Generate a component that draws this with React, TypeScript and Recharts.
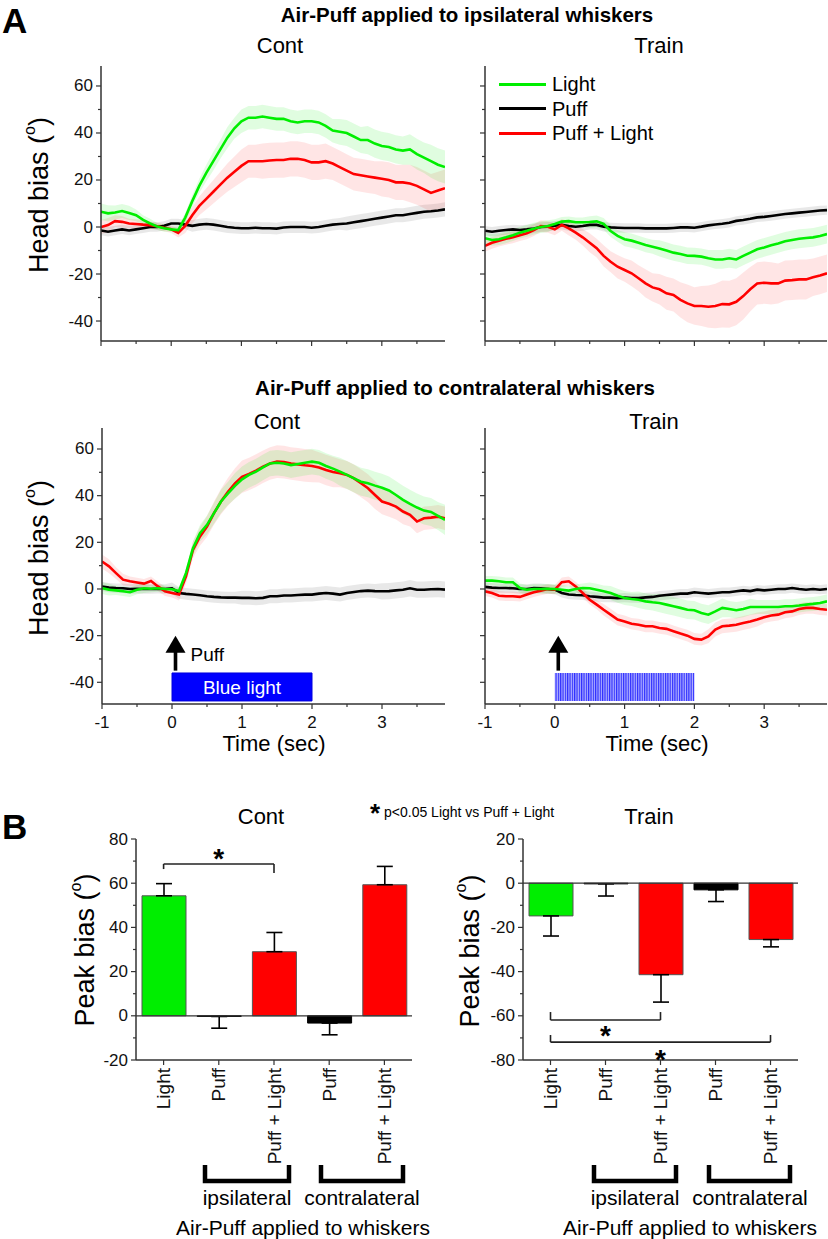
import React from 'react';
import {
  ComposedChart, Line, Area, XAxis, YAxis, ReferenceArea, ReferenceDot,
  ReferenceLine, BarChart, Bar, Cell, ErrorBar,
} from 'recharts';

const FONT = '"Liberation Sans", Arial, Helvetica, sans-serif';
const GREEN = '#00ee00';
const RED = '#ff0000';
const BLACK = '#000000';

// ---------- Panel A: time axis (sec) ----------
const time = [
  -1, -0.9, -0.8, -0.7, -0.6, -0.5, -0.4, -0.3, -0.2, -0.1,
  0, 0.1, 0.2, 0.3, 0.4, 0.5, 0.6, 0.7, 0.8, 0.9,
  1, 1.1, 1.2, 1.3, 1.4, 1.5, 1.6, 1.7, 1.8, 1.9,
  2, 2.1, 2.2, 2.3, 2.4, 2.5, 2.6, 2.7, 2.8, 2.9,
  3, 3.1, 3.2, 3.3, 3.4, 3.5, 3.6, 3.7, 3.8, 3.9,
];
const xTicks = [-1, -0.5, 0, 0.5, 1, 1.5, 2, 2.5, 3, 3.5];
const xTickLabels = ['-1', '0', '1', '2', '3'];
const yTicksA = [-40, -30, -20, -10, 0, 10, 20, 30, 40, 50, 60];

// Ipsilateral, Cont
const ipsiContLight = [6.5, 5.8, 6.2, 6.8, 6.0, 5.0, 3.0, 1.5, 0.2, -0.5, -1.0, -1.3, 4.0, 11.0, 17.5, 23.0, 28.0, 33.0, 38.0, 42.0, 45.0, 46.5, 46.5, 47.0, 46.5, 46.0, 46.0, 45.0, 44.5, 45.0, 45.0, 44.5, 43.0, 41.0, 40.5, 40.0, 38.5, 37.0, 37.0, 35.5, 34.5, 34.0, 33.0, 32.5, 33.0, 31.0, 29.5, 28.0, 26.5, 25.5];
const ipsiContLightSem = [3.5, 3.5, 3, 3, 3, 2.5, 2, 2, 1.5, 1.5, 1, 1.5, 2, 2.5, 3, 3.5, 4, 4, 4.5, 4.5, 5, 5, 5, 5, 5, 5, 5, 5, 5, 5, 5, 5, 5, 5, 5.5, 5.5, 5.5, 5.5, 6, 6, 6, 6, 6, 6, 6.5, 6.5, 6.5, 7, 7, 7];
const ipsiContPuff = [-1.5, -2, -1.5, -1, -1.5, -1, -0.5, 0, 0, 0.5, 1.5, 1.5, 1, 0.5, 1, 1.3, 1, 0.5, 0, -0.3, -0.5, -0.5, -0.3, -0.5, -0.5, -0.7, -0.2, 0, 0, 0, -0.3, 0, 0.5, 1, 1.3, 1.5, 2, 2.5, 3, 3.5, 4, 4.5, 5, 5, 5.5, 6, 6.5, 6.7, 7, 7.5];
const ipsiContPuffSem = [2, 2, 2, 2, 2, 2, 2, 2, 2, 2, 2, 2, 2, 2.5, 2.5, 2.5, 2.5, 2.5, 2.5, 2.5, 2.5, 2.5, 2.5, 2.5, 2.5, 2.5, 2.5, 2.5, 2.5, 2.5, 2.5, 2.5, 2.5, 2.5, 2.5, 3, 3, 3, 3, 3, 3, 3, 3, 3, 3, 3, 3, 3, 3, 3];
const ipsiContPL = [0, 0.8, 2.5, 2.2, 1.5, 1.3, 1.0, 0.8, 0.3, -0.3, -1.0, -2.5, 0.5, 5.0, 9.0, 12.0, 15.0, 18.0, 21.0, 23.5, 26, 28, 28, 28, 28.3, 28.5, 28.5, 29, 29, 28.5, 27.5, 27.5, 28, 27, 25.5, 24, 22.5, 22, 21.5, 21, 20.5, 20, 19, 19, 18.5, 17.5, 16, 14.5, 15.5, 16.5];
const ipsiContPLSem = [3, 3, 2.5, 2.5, 2, 2, 2, 1.5, 1.5, 1.5, 1.5, 2, 3, 3.5, 4, 4.5, 5, 5.5, 6, 6.5, 7, 7, 7, 7.5, 7.5, 7.5, 7.5, 7.5, 7.5, 7.5, 7.5, 7.5, 7.5, 7, 7, 7, 7, 7, 7, 7, 7.5, 7.5, 7.5, 7.5, 8, 8, 8, 8, 8, 8];

// Ipsilateral, Train
const ipsiTrainLight = [-4.8, -5.5, -5.2, -4.4, -3.5, -2.4, -1.6, -0.7, 0, 0.4, 1.3, 2.3, 2.5, 2, 2, 2.1, 2.4, 1.3, -1.7, -3.8, -5.2, -5.8, -6.7, -7.7, -8.4, -9.1, -10, -10.9, -11.5, -12.2, -12.3, -12.6, -13.3, -13.8, -13.8, -13.3, -13.8, -12.3, -10.9, -9.5, -8.7, -7.8, -7, -6.1, -5.5, -5, -4.7, -4.4, -3.8, -3];
const ipsiTrainLightSem = [2.5, 2.5, 2.5, 2.5, 2.5, 2.5, 2.5, 2.5, 2.5, 2.5, 2, 2, 2, 2, 2, 2.5, 2.5, 2.5, 2.5, 2.5, 3, 3, 3, 3, 3, 3.5, 3.5, 3.5, 3.5, 3.5, 3.5, 3.5, 3.5, 4, 4, 4, 4, 4, 4, 4, 4, 4, 4, 4, 4, 4, 4, 4, 4, 4];
const ipsiTrainPuff = [-1.6, -2, -1.6, -1.3, -1, -1.3, -1, -0.6, 0, 0.1, 0.6, 0.9, 0.4, 0.1, 0.4, 0.9, 0.9, 0.1, -0.15, -0.3, -0.4, -0.4, -0.4, -0.6, -0.6, -0.6, -0.6, -0.4, -0.15, -0.15, -0.3, 0.15, 0.7, 1.1, 1.4, 1.8, 2.6, 3, 3.5, 4.1, 4.3, 4.7, 5.1, 5.5, 5.8, 6.1, 6.4, 6.7, 7, 7.2];
const ipsiTrainPuffSem = [2, 2, 2, 2, 2, 2, 2, 2, 2, 2, 2, 2, 2, 2, 2, 2, 2, 2, 2, 2, 2, 2, 2, 2, 2, 2, 2, 2, 2, 2, 2, 2, 2, 2, 2, 2, 2, 2, 2, 2, 2, 2, 2, 2, 2, 2, 2, 2, 2, 2];
const ipsiTrainPL = [-8, -6.7, -5.8, -5, -4.4, -3.5, -2.7, -1.3, 0.4, 0.1, -1, 0.9, -0.6, -2.4, -4.4, -6.7, -9, -12.3, -14.8, -16.9, -18.3, -19.7, -21.8, -24, -25.7, -26.5, -28.2, -28.9, -31, -32.5, -33.6, -33.6, -33.9, -33.6, -32.8, -32.9, -31.8, -29.4, -26.5, -24, -23.7, -24, -24, -22.8, -22.6, -22.3, -22.3, -21.4, -20.6, -19.7];
const ipsiTrainPLSem = [2.5, 2.5, 2.5, 2.5, 2.5, 2.5, 2.5, 2.5, 2.5, 2.5, 2.5, 2.5, 3, 3, 3.5, 4, 4, 4.5, 4.5, 5, 5, 5.5, 5.5, 6, 6, 6.5, 7, 7, 7.5, 8, 8, 8.5, 9, 9.5, 10, 10, 10, 10, 9.5, 9, 9, 9, 8.5, 8.5, 8.5, 8.5, 8.5, 8, 8, 8];

// Contralateral, Cont
const contraContLight = [0.4, -0.3, -0.6, -1, -1.4, -0.3, 0.3, 0.1, 0.3, 0, -0.1, -0.9, 6.8, 17.5, 23.9, 27.5, 32.5, 37.5, 41, 44.2, 47, 48.9, 50.3, 52.1, 53.8, 54.1, 53.8, 53.1, 53.6, 54.1, 54.6, 54.1, 52.7, 51.6, 50.3, 48.9, 47.4, 46, 45.3, 44.3, 43.4, 42.2, 40.3, 38.2, 36.5, 34.9, 33.6, 33, 31.3, 29.6];
const contraContLightSem = [2.5, 2.5, 2, 2, 2, 2, 2, 1.5, 1.5, 1.5, 1.5, 1.5, 2, 3, 3.5, 4, 4.5, 5, 5, 5.5, 5.5, 5.5, 5.5, 5.5, 5.5, 5.5, 5.5, 5.5, 5.5, 5.5, 5.5, 5.5, 5.5, 5.5, 6, 6, 6, 6, 6, 6, 6, 6, 6, 6, 6, 6, 6, 6, 6, 6.5];
const contraContPuff = [1.1, 0.6, 0.4, 0.3, 0, 0.1, 0, 0, 0.1, 0, 0.3, -1.7, -2.1, -2.4, -2.7, -3.1, -3.4, -3.6, -3.7, -3.7, -3.8, -3.8, -4, -3.8, -3.1, -3.1, -2.8, -2.8, -2.6, -2.4, -2.4, -2, -1.7, -2, -2.4, -1.7, -1.3, -0.9, -0.7, -0.9, -1, -0.9, -0.6, -0.3, 0.3, -0.3, -0.3, -0.1, 0, -0.3];
const contraContPuffSem = [2, 2, 2, 2, 2, 2, 2, 2, 2, 2, 2.5, 2.5, 2.5, 2.5, 2.5, 2.5, 2.5, 2.5, 2.5, 2.5, 3, 3, 3, 3, 3, 3, 3, 3, 3, 3, 3, 3, 3, 3, 3, 3, 3, 3, 3, 3, 3.5, 3.5, 3.5, 3.5, 3.5, 3.5, 3.5, 3.5, 3.5, 3.5];
const contraContPL = [11.8, 9.7, 6.8, 4, 3.3, 2.8, 2.3, 3.4, 1.1, -1, -1.7, -2.4, 5.4, 16.8, 22.5, 26.8, 32.5, 37.5, 41.7, 45.3, 48.1, 49.3, 50.7, 52.4, 53.8, 54.6, 54.4, 53.8, 53.4, 53, 52.7, 52.1, 51, 50.1, 49.6, 48.9, 47.4, 45.3, 43.2, 40.3, 37.5, 36.5, 35.3, 33.2, 31.8, 28.9, 30.3, 30.6, 31, 30.3];
const contraContPLSem = [3, 3, 2.5, 2.5, 2, 2, 2, 2, 2, 2, 2, 2.5, 3, 3.5, 4, 4.5, 5, 5.5, 6, 6.5, 7, 7, 7, 7, 7, 7, 7, 7, 7, 7, 7, 6.5, 6.5, 6.5, 6, 6, 6, 6, 6, 6, 5.5, 5.5, 5.5, 5.5, 5, 5, 5, 5, 5, 5];

// Contralateral, Train
const contraTrainLight = [3.6, 3.6, 3.3, 2.9, 2.9, 0.4, -0.3, 0, 0, 0.1, 0, -0.3, -0.7, 0, 0.4, 0.3, -0.3, -1, -1.7, -2.9, -3.9, -4.3, -4.6, -5.3, -5.7, -6, -6.7, -7.4, -8.1, -8.9, -9.1, -10.3, -11, -9.6, -8.1, -8.6, -9.1, -8.6, -7.7, -7.7, -7.7, -7.7, -7.7, -7.4, -7.4, -7.1, -6.7, -6.4, -6, -5.3];
const contraTrainLightSem = [2, 2, 2, 2, 2, 2, 2, 2, 2, 2, 2, 2, 2, 2, 2, 2.5, 2.5, 2.5, 3, 3, 3, 3, 3.5, 3.5, 3.5, 4, 4, 4, 4, 4, 4, 4, 4, 4, 4, 3.5, 3.5, 3.5, 3.5, 3, 3, 3, 3, 3, 3, 3, 3, 3, 3, 3];
const contraTrainPuff = [0.9, 0.6, 0.4, 0.4, 0.3, 0, 0, 0.4, 0.3, 0, -0.3, -1.7, -2.4, -2.6, -2.7, -3.1, -3.4, -3.7, -3.7, -3.9, -3.7, -3.9, -3.9, -3.6, -3.4, -2.9, -2.6, -2.3, -2, -2, -1.4, -1.7, -2, -1.7, -1.4, -1.4, -1, -0.6, -0.9, -0.3, -0.6, -0.3, 0, 0, 0.4, 0, -0.3, 0, -0.3, 0];
const contraTrainPuffSem = [2, 2, 2, 2, 2, 2, 2, 2, 2, 2, 2, 2, 2, 2, 2, 2, 2, 2, 2, 2, 2, 2, 2, 2, 2, 2, 2, 2, 2, 2, 2, 2, 2, 2, 2, 2, 2, 2, 2, 2, 2, 2, 2, 2, 2, 2, 2, 2, 2, 2];
const contraTrainPL = [-1, -1.7, -2.9, -3.1, -3.1, -3.4, -2.4, -1.4, -0.7, 0, -0.3, 2.9, 3.3, 1.1, -1.7, -4.6, -6.7, -8.9, -11, -13.1, -13.9, -14.9, -15.3, -16, -16, -16.7, -17.1, -18.1, -19.1, -20, -21.4, -21.7, -20.3, -17.4, -16, -15.7, -15.3, -14.6, -13.9, -13.1, -12.1, -11.4, -11, -10, -9.6, -8.6, -8.1, -8.1, -8.6, -8.9];
const contraTrainPLSem = [2, 2, 2, 2, 2, 2, 2, 2, 2, 2, 2, 2, 2, 2, 2, 2, 2, 2.5, 2.5, 2.5, 2.5, 2.5, 2.5, 2.5, 2.5, 2.5, 2.5, 2.5, 2.5, 2.5, 2.5, 2.5, 3, 3, 3, 3, 3, 3, 3, 3, 2.5, 2.5, 2.5, 2.5, 2.5, 2.5, 2.5, 2.5, 2.5, 2.5];

// ---------- Panel B ----------
const barKeys = ['light', 'puffI', 'plI', 'puffC', 'plC'];
const barLabels = ['Light', 'Puff', 'Puff + Light', 'Puff', 'Puff + Light'];
const barColors = [GREEN, BLACK, RED, BLACK, RED];
const contPeak = [54.3, -0.3, 29.0, -3.3, 59.3];
const contErr = [5.5, 5.3, 8.7, 5.3, 8.3];
const trainPeak = [-14.8, -0.3, -41.4, -3.0, -25.5];
const trainErr = [9.1, 5.5, 12.4, 5.3, 3.3];
const yTicksCont = [-20, -10, 0, 10, 20, 30, 40, 50, 60, 70, 80];
const yTicksTrain = [-80, -70, -60, -50, -40, -30, -20, -10, 0, 10, 20];

const legendItems = [
  { name: 'Light', color: GREEN },
  { name: 'Puff', color: BLACK },
  { name: 'Puff + Light', color: RED },
];

function buildRows(L: number[], Ls: number[], P: number[], Ps: number[], PL: number[], PLs: number[]) {
  return time.map((t, i) => ({ t, g: L[i], gs: Ls[i], k: P[i], ks: Ps[i], r: PL[i], rs: PLs[i] }));
}

const AX = '#333';

const makeYTick = (showLabel: boolean) => (props: any) => {
  const { x, y, payload } = props;
  const ax = x + 8;
  const v = payload.value;
  const major = Math.abs(v % 20) < 1e-6;
  return (
    <g>
      <line x1={ax - (major ? 5 : 3)} x2={ax} y1={y} y2={y} stroke={AX} strokeWidth={1.2} />
      {showLabel && major && (
        <text x={ax - 8} y={y} textAnchor="end" dominantBaseline="central" fontSize={17} fill="#111" fontFamily={FONT}>
          {v}
        </text>
      )}
    </g>
  );
};

const makeXTick = (showLabel: boolean) => (props: any) => {
  const { x, y, payload } = props;
  const ay = y - 8;
  const v = payload.value;
  const major = Number.isInteger(v);
  const idx = [-1, 0, 1, 2, 3].indexOf(v);
  return (
    <g>
      <line x1={x} x2={x} y1={ay} y2={ay + (major ? 5 : 3)} stroke={AX} strokeWidth={1.2} />
      {showLabel && major && idx >= 0 && (
        <text x={x} y={ay + 18} textAnchor="middle" dominantBaseline="central" fontSize={17} fill="#111" fontFamily={FONT}>
          {xTickLabels[idx]}
        </text>
      )}
    </g>
  );
};

const ArrowShape = (props: any) => {
  const { cx, cy, showText } = props;
  return (
    <g>
      <path d={`M${cx},${cy} L${cx - 10},${cy + 17} L${cx + 10},${cy + 17} Z`} fill="#000" />
      <rect x={cx - 1.8} y={cy + 16} width={3.6} height={19} fill="#000" />
      {showText && (
        <text x={cx + 15} y={cy + 19} dominantBaseline="central" fontSize={19} fill="#000" fontFamily={FONT}>
          Puff
        </text>
      )}
    </g>
  );
};

type PanelProps = {
  left: number; top: number; width: number; height: number;
  yDomain: [number, number]; rows: any[];
  showYLabels: boolean; showXLabels: boolean; stim?: 'cont' | 'train';
};

function TracePanel(p: PanelProps) {
  const ML = 60, MT = 10, XH = 40, MR = 2;
  return (
    <div style={{ position: 'absolute', left: p.left - ML, top: p.top - MT }}>
      <ComposedChart
        width={ML + p.width + MR}
        height={MT + p.height + XH}
        data={p.rows}
        margin={{ top: MT, right: MR, left: 0, bottom: 0 }}
      >
        <XAxis
          type="number" dataKey="t" domain={[-1, 3.9]} ticks={xTicks} allowDataOverflow interval={0}
          height={XH} tickSize={6} tickMargin={2} tickLine={false}
          axisLine={{ stroke: AX, strokeWidth: 1.5 }} tick={makeXTick(p.showXLabels)}
        />
        <YAxis
          type="number" domain={p.yDomain} ticks={yTicksA} allowDataOverflow interval={0}
          width={ML} tickSize={6} tickMargin={2} tickLine={false}
          axisLine={{ stroke: AX, strokeWidth: 1.5 }} tick={makeYTick(p.showYLabels)}
        />
        <Area dataKey={(d: any) => [d.k - d.ks, d.k + d.ks]} stroke="none" fill="#000" fillOpacity={0.09} isAnimationActive={false} />
        <Area dataKey={(d: any) => [d.r - d.rs, d.r + d.rs]} stroke="none" fill={RED} fillOpacity={0.1} isAnimationActive={false} />
        <Area dataKey={(d: any) => [d.g - d.gs, d.g + d.gs]} stroke="none" fill={GREEN} fillOpacity={0.12} isAnimationActive={false} />
        <Line dataKey="k" stroke={BLACK} strokeWidth={2.6} dot={false} isAnimationActive={false} />
        <Line dataKey="r" stroke={RED} strokeWidth={2.6} dot={false} isAnimationActive={false} />
        <Line dataKey="g" stroke={GREEN} strokeWidth={2.6} dot={false} isAnimationActive={false} />
        {p.stim === 'cont' && (
          <ReferenceArea
            x1={0} x2={2} y1={-48} y2={-36} fill="#0000ff" fillOpacity={1} stroke="#0000dd"
            label={{ value: 'Blue light', fill: '#ffffff', fontSize: 19, position: 'center', fontFamily: FONT }}
          />
        )}
        {p.stim === 'train' && (
          <ReferenceArea x1={0} x2={2} y1={-48} y2={-36} fill="url(#pulseStripes)" fillOpacity={1} stroke="none" />
        )}
        {p.stim && (
          <ReferenceDot x={0.05} y={-20} r={0} shape={(sp: any) => <ArrowShape {...sp} showText={p.stim === 'cont'} />} />
        )}
      </ComposedChart>
    </div>
  );
}

const makeCatTick = (props: any) => {
  const { x, y, payload } = props;
  const ay = y - 8;
  const idx = barKeys.indexOf(payload.value);
  const ty = ay + 8;
  return (
    <g>
      <line x1={x} x2={x} y1={ay} y2={ay + 5} stroke={AX} strokeWidth={1.2} />
      <text
        x={x} y={ty} transform={`rotate(-90 ${x} ${ty})`} textAnchor="end" dominantBaseline="central"
        fontSize={19} fill="#111" fontFamily={FONT}
      >
        {barLabels[idx]}
      </text>
    </g>
  );
};

const StarShape = (props: any) => (
  <text x={props.cx} y={props.cy + 6} textAnchor="middle" dominantBaseline="central" fontSize={28} fontWeight="bold" fill="#000" fontFamily={FONT}>
    *
  </text>
);

type BarPanelProps = {
  left: number; top: number; width: number; height: number;
  peaks: number[]; errs: number[]; domain: [number, number]; ticks: number[];
  brackets: { from: string; to: string; y: number; yFrom: number; yTo: number }[];
  stars: { x: string; y: number }[];
};

function BarPanel(p: BarPanelProps) {
  const ML = 50, MT = 10, XH = 115, MR = 10;
  const rows = barKeys.map((key, i) => ({
    key,
    v: p.peaks[i],
    e: p.peaks[i] >= 0 ? [0, p.errs[i]] : [p.errs[i], 0],
  }));
  return (
    <div style={{ position: 'absolute', left: p.left - ML, top: p.top - MT }}>
      <BarChart
        width={ML + p.width + MR} height={MT + p.height + XH} data={rows}
        margin={{ top: MT, right: MR, left: 0, bottom: 0 }}
      >
        <XAxis
          dataKey="key" type="category" interval={0} height={XH} tickSize={6} tickMargin={2} tickLine={false}
          axisLine={{ stroke: AX, strokeWidth: 1.5 }} tick={makeCatTick}
        />
        <YAxis
          type="number" domain={p.domain} ticks={p.ticks} allowDataOverflow interval={0}
          width={ML} tickSize={6} tickMargin={2} tickLine={false}
          axisLine={{ stroke: AX, strokeWidth: 1.5 }} tick={makeYTick(true)}
        />
        <Bar dataKey="v" barSize={44} isAnimationActive={false} stroke="#555" strokeWidth={1}>
          {rows.map((r, i) => (
            <Cell key={r.key} fill={barColors[i]} stroke={barColors[i] === BLACK ? '#000' : '#555'} />
          ))}
          <ErrorBar dataKey="e" width={8} stroke="#000" strokeWidth={1.6} direction="y" />
        </Bar>
        <ReferenceLine y={0} stroke={AX} strokeWidth={1.3} />
        {p.brackets.map((b, i) => (
          <ReferenceLine key={'a' + i} segment={[{ x: b.from, y: b.yFrom }, { x: b.from, y: b.y }]} stroke="#222" strokeWidth={1.6} />
        ))}
        {p.brackets.map((b, i) => (
          <ReferenceLine key={'b' + i} segment={[{ x: b.from, y: b.y }, { x: b.to, y: b.y }]} stroke="#222" strokeWidth={1.6} />
        ))}
        {p.brackets.map((b, i) => (
          <ReferenceLine key={'c' + i} segment={[{ x: b.to, y: b.y }, { x: b.to, y: b.yTo }]} stroke="#222" strokeWidth={1.6} />
        ))}
        {p.stars.map((s, i) => (
          <ReferenceDot key={'s' + i} x={s.x} y={s.y} r={0} shape={StarShape} />
        ))}
      </BarChart>
    </div>
  );
}

function YLabel({ x, y, text }: { x: number; y: number; text: string }) {
  return (
    <text x={x} y={y} transform={`rotate(-90 ${x} ${y})`} textAnchor="middle" dominantBaseline="central" fontSize={27} fontFamily={FONT} fill="#000">
      {text} (<tspan fontSize={16} dy={-10}>o</tspan><tspan dy={10}>)</tspan>
    </text>
  );
}

function T({ x, y, children, size = 22, bold = false, anchor = 'middle' }: any) {
  return (
    <text x={x} y={y} textAnchor={anchor} dominantBaseline="central" fontSize={size} fontWeight={bold ? 'bold' : 'normal'} fontFamily={FONT} fill="#000">
      {children}
    </text>
  );
}

export default function App() {
  const rowsIC = buildRows(ipsiContLight, ipsiContLightSem, ipsiContPuff, ipsiContPuffSem, ipsiContPL, ipsiContPLSem);
  const rowsIT = buildRows(ipsiTrainLight, ipsiTrainLightSem, ipsiTrainPuff, ipsiTrainPuffSem, ipsiTrainPL, ipsiTrainPLSem);
  const rowsCC = buildRows(contraContLight, contraContLightSem, contraContPuff, contraContPuffSem, contraContPL, contraContPLSem);
  const rowsCT = buildRows(contraTrainLight, contraTrainLightSem, contraTrainPuff, contraTrainPuffSem, contraTrainPL, contraTrainPLSem);

  return (
    <div style={{ position: 'absolute', left: 0, top: 0, width: 828, height: 1239, background: '#fff', overflow: 'hidden', fontFamily: FONT }}>
      <svg width={0} height={0} style={{ position: 'absolute' }}>
        <defs>
          <pattern id="pulseStripes" patternUnits="userSpaceOnUse" width={2.33} height={40}>
            <rect x={0} y={0} width={2.33} height={40} fill="#b4b4ff" />
            <rect x={0} y={0} width={1.2} height={40} fill="#3030ff" />
          </pattern>
        </defs>
      </svg>

      <svg width={828} height={1239} style={{ position: 'absolute', left: 0, top: 0 }}>
        <T x={2} y={20} size={35} bold anchor="start">A</T>
        <T x={467} y={14} size={20.5} bold>Air-Puff applied to ipsilateral whiskers</T>
        <T x={280} y={45}>Cont</T>
        <T x={659} y={45}>Train</T>
        <T x={455} y={387} size={20.5} bold>Air-Puff applied to contralateral whiskers</T>
        <T x={277} y={421}>Cont</T>
        <T x={654} y={421}>Train</T>
        <YLabel x={39} y={195} text="Head bias" />
        <YLabel x={39} y={558} text="Head bias" />
        <T x={274} y={743}>Time (sec)</T>
        <T x={657} y={743}>Time (sec)</T>

        <T x={2} y={826} size={35} bold anchor="start">B</T>
        <T x={261} y={816}>Cont</T>
        <T x={649} y={816}>Train</T>
        <T x={375} y={813} size={26} bold>*</T>
        <T x={384} y={812} size={14} anchor="start">p&lt;0.05 Light vs Puff + Light</T>
        <YLabel x={85} y={950} text="Peak bias" />
        <YLabel x={470} y={951} text="Peak bias" />

        <path d="M205,1165 V1181 H289 V1165" fill="none" stroke="#000" strokeWidth={4.5} strokeLinejoin="miter" />
        <path d="M321,1165 V1181 H403 V1165" fill="none" stroke="#000" strokeWidth={4.5} strokeLinejoin="miter" />
        <path d="M594,1165 V1181 H676 V1165" fill="none" stroke="#000" strokeWidth={4.5} strokeLinejoin="miter" />
        <path d="M709,1165 V1181 H790 V1165" fill="none" stroke="#000" strokeWidth={4.5} strokeLinejoin="miter" />
        <T x={247} y={1197} size={21}>ipsilateral</T>
        <T x={362} y={1197} size={21}>contralateral</T>
        <T x={303} y={1227} size={21}>Air-Puff applied to whiskers</T>
        <T x={635} y={1197} size={21}>ipsilateral</T>
        <T x={750} y={1197} size={21}>contralateral</T>
        <T x={690} y={1227} size={21}>Air-Puff applied to whiskers</T>
      </svg>

      <TracePanel left={101} top={66} width={344} height={275} yDomain={[-48.5, 68.5]} rows={rowsIC} showYLabels showXLabels={false} />
      <TracePanel left={485} top={66} width={342} height={275} yDomain={[-48.5, 68.5]} rows={rowsIT} showYLabels={false} showXLabels={false} />
      <TracePanel left={102} top={428} width={343} height={276} yDomain={[-49.3, 69]} rows={rowsCC} showYLabels showXLabels stim="cont" />
      <TracePanel left={485} top={428} width={342} height={276} yDomain={[-49.3, 69]} rows={rowsCT} showYLabels={false} showXLabels stim="train" />

      <div style={{ position: 'absolute', left: 499, top: 72 }}>
        {legendItems.map((it) => (
          <div key={it.name} style={{ display: 'flex', alignItems: 'center', height: 24.5 }}>
            <div style={{ width: 47, height: 3, background: it.color, marginRight: 6 }} />
            <span style={{ fontSize: 20, fontFamily: FONT, color: '#000', lineHeight: '24px' }}>{it.name}</span>
          </div>
        ))}
      </div>

      <BarPanel
        left={136} top={839} width={276} height={221} peaks={contPeak} errs={contErr}
        domain={[-20, 80]} ticks={yTicksCont}
        brackets={[{ from: 'light', to: 'plI', y: 68.7, yFrom: 66.4, yTo: 64.6 }]}
        stars={[{ x: 'puffI', y: 74 }]}
      />
      <BarPanel
        left={523} top={839} width={275} height={221} peaks={trainPeak} errs={trainErr}
        domain={[-80, 20]} ticks={yTicksTrain}
        brackets={[
          { from: 'light', to: 'plI', y: -61.9, yFrom: -58.3, yTo: -58.3 },
          { from: 'light', to: 'plC', y: -71.9, yFrom: -68.7, yTo: -68.7 },
        ]}
        stars={[{ x: 'puffI', y: -66 }, { x: 'plI', y: -77 }]}
      />
    </div>
  );
}
